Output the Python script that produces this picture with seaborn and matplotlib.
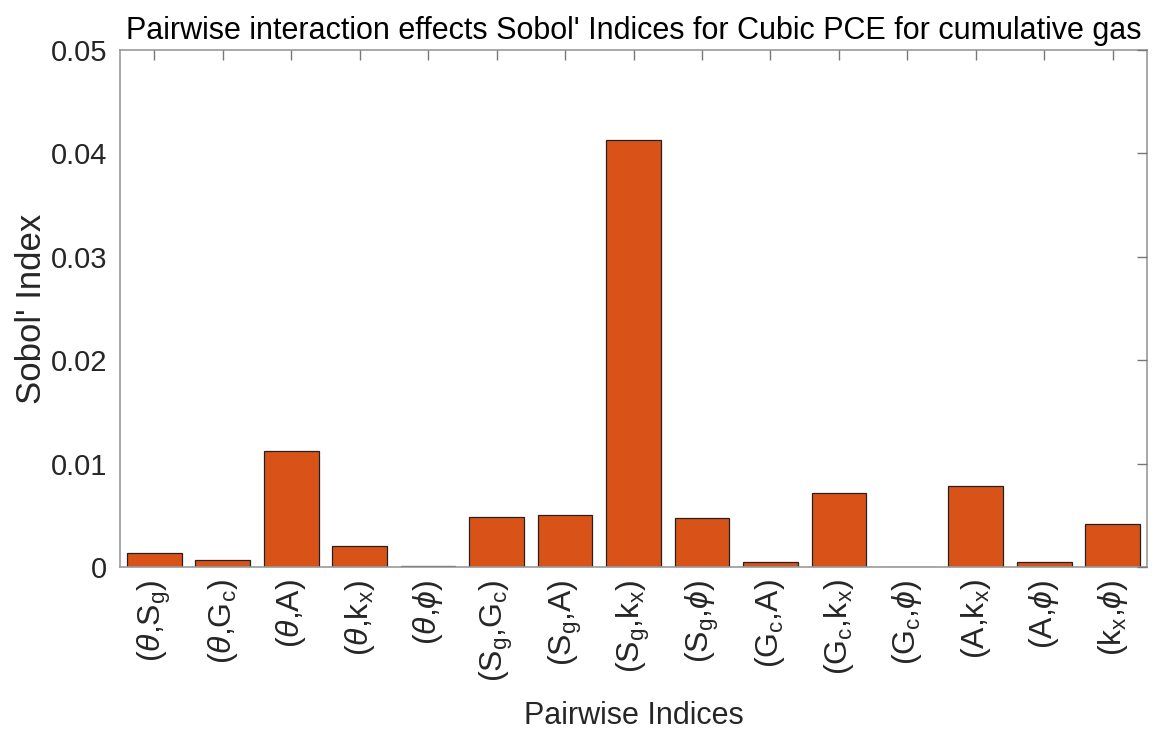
import matplotlib
matplotlib.use("Agg")
import matplotlib.pyplot as plt
import seaborn as sns
import pandas as pd

labels = [r"($\theta$,S$_\mathrm{g}$)", r"($\theta$,G$_\mathrm{c}$)", r"($\theta$,A)",
          r"($\theta$,k$_\mathrm{x}$)", r"($\theta$,$\phi$)", r"(S$_\mathrm{g}$,G$_\mathrm{c}$)",
          r"(S$_\mathrm{g}$,A)", r"(S$_\mathrm{g}$,k$_\mathrm{x}$)", r"(S$_\mathrm{g}$,$\phi$)",
          r"(G$_\mathrm{c}$,A)", r"(G$_\mathrm{c}$,k$_\mathrm{x}$)", r"(G$_\mathrm{c}$,$\phi$)",
          r"(A,k$_\mathrm{x}$)", r"(A,$\phi$)", r"(k$_\mathrm{x}$,$\phi$)"]
values = [0.0014, 0.0007, 0.0112, 0.0020, 0.0001, 0.0048, 0.0050, 0.0413,
          0.0047, 0.0005, 0.0072, 0.0, 0.0078, 0.0005, 0.0042]
yticks = [0, 0.01, 0.02, 0.03, 0.04, 0.05]
yticklabels = ["0", "0.01", "0.02", "0.03", "0.04", "0.05"]

sns.set_style("white")
plt.rcParams['font.family'] = ['Liberation Sans', 'DejaVu Sans']
plt.rcParams['mathtext.fontset'] = 'custom'
plt.rcParams['mathtext.rm'] = 'Liberation Sans'
plt.rcParams['mathtext.it'] = 'Liberation Sans:italic'

df = pd.DataFrame({"pair": labels, "value": values})

fig = plt.figure(figsize=(11.71, 7.32), dpi=100)
ax = fig.add_axes([120/1171, 1 - 567/732, (1147-120)/1171, (567-50)/732])
sns.barplot(data=df, x="pair", y="value", color="#D95319", saturation=1,
            edgecolor="#222222", linewidth=0.9, width=0.8, ax=ax)
ax.set_axisbelow(False)
ax.set_xlim(-0.5, 14.5)
ax.set_ylim(0, 0.05)
ax.set_yticks(yticks)
ax.set_yticklabels(yticklabels)
ax.set_xticks(range(len(labels)))
ax.set_xticklabels(labels, rotation=90)
ax.tick_params(axis='both', direction='in', length=7, color='#777777', width=1.0,
               top=True, right=True, labelcolor='#262626', pad=8)
ax.tick_params(axis='x', labelsize=23, pad=9)
ax.tick_params(axis='y', labelsize=21, pad=9)
for s in ax.spines.values():
    s.set_color('#999999')
    s.set_linewidth(1.2)
    s.set_visible(True)
ax.set_xlabel("Pairwise Indices", fontsize=22, color='#262626', labelpad=14)
ax.set_ylabel("Sobol' Index", fontsize=25, color='#262626')
ax.yaxis.set_label_coords(-0.070, 0.5)
ax.set_title("Pairwise interaction effects Sobol' Indices for Cubic PCE for cumulative gas",
             fontsize=22, color='black', pad=8)
fig.savefig("out.png", dpi=100)
